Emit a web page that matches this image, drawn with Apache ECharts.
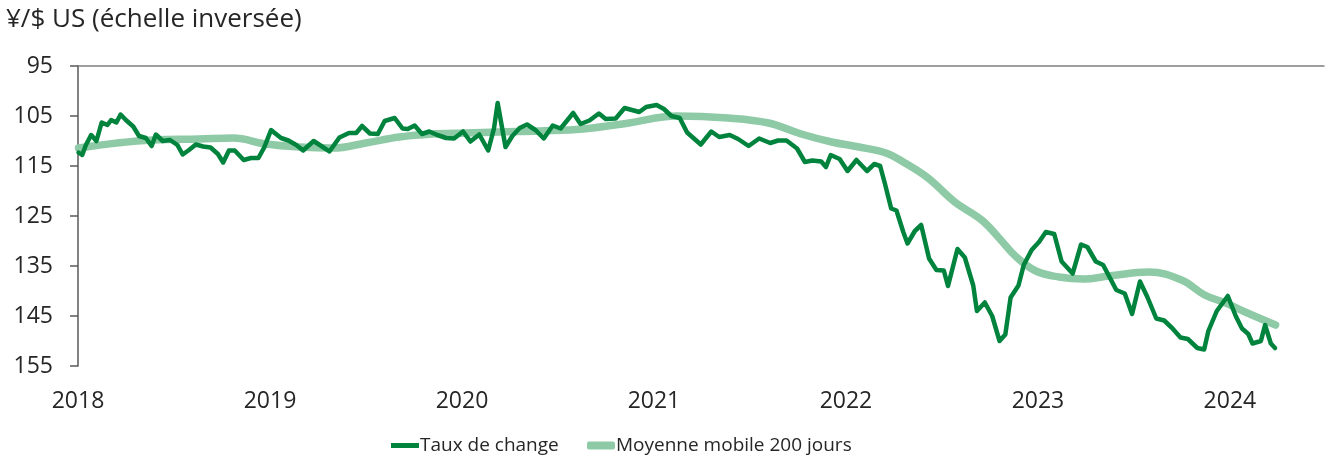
<!DOCTYPE html>
<html>
<head>
<meta charset="utf-8">
<title>¥/$ US</title>
<script src="https://cdn.jsdelivr.net/npm/echarts@6/dist/echarts.min.js"></script>
<style>
  html, body { margin: 0; padding: 0; background: #fff; }
  #chart { width: 1327px; height: 459px; }
</style>
</head>
<body>
<div id="chart"></div>
<script>
// Taux de change (¥ par $ US)
const rateDates = [
  '2018-01-02', '2018-01-09', '2018-01-16', '2018-01-26', '2018-02-05', '2018-02-15', '2018-02-26',
  '2018-03-05', '2018-03-15', '2018-03-23', '2018-04-02', '2018-04-16', '2018-04-27', '2018-05-10',
  '2018-05-21', '2018-05-29', '2018-06-11', '2018-06-25', '2018-07-09', '2018-07-19', '2018-07-31',
  '2018-08-13', '2018-08-27', '2018-09-10', '2018-09-24', '2018-10-04', '2018-10-15', '2018-10-26',
  '2018-11-12', '2018-11-26', '2018-12-10', '2018-12-21',
  '2019-01-03', '2019-01-10', '2019-01-22', '2019-02-05', '2019-02-20', '2019-03-05', '2019-03-25',
  '2019-04-10', '2019-04-24', '2019-05-13', '2019-05-31', '2019-06-14', '2019-06-25', '2019-07-10',
  '2019-07-25', '2019-08-07', '2019-08-26', '2019-09-10', '2019-09-20', '2019-10-03', '2019-10-17',
  '2019-10-31', '2019-11-15', '2019-12-02', '2019-12-17',
  '2020-01-03', '2020-01-17', '2020-02-03', '2020-02-20', '2020-03-02', '2020-03-09', '2020-03-16',
  '2020-03-24', '2020-04-06', '2020-04-20', '2020-05-04', '2020-05-20', '2020-06-05', '2020-06-22',
  '2020-07-07', '2020-07-31', '2020-08-14', '2020-08-31', '2020-09-18', '2020-10-01', '2020-10-20',
  '2020-11-06', '2020-11-20', '2020-12-04', '2020-12-17',
  '2021-01-06', '2021-01-20', '2021-02-03', '2021-02-19', '2021-03-05', '2021-03-31', '2021-04-20',
  '2021-05-05', '2021-05-25', '2021-06-10', '2021-06-30', '2021-07-20', '2021-08-10', '2021-08-25',
  '2021-09-10', '2021-09-30', '2021-10-15', '2021-10-29', '2021-11-15', '2021-11-24', '2021-12-03',
  '2021-12-20',
  '2022-01-04', '2022-01-21', '2022-02-10', '2022-02-24', '2022-03-07', '2022-03-16', '2022-03-28',
  '2022-04-07', '2022-04-20', '2022-04-28', '2022-05-12', '2022-05-24', '2022-06-08', '2022-06-22',
  '2022-07-06', '2022-07-14', '2022-08-01', '2022-08-15', '2022-08-31', '2022-09-07', '2022-09-22',
  '2022-10-06', '2022-10-20', '2022-10-31', '2022-11-10', '2022-11-25', '2022-12-05', '2022-12-20',
  '2023-01-03', '2023-01-16', '2023-02-01', '2023-02-15', '2023-03-08', '2023-03-24', '2023-04-05',
  '2023-04-21', '2023-05-05', '2023-05-30', '2023-06-15', '2023-06-29', '2023-07-14', '2023-07-28',
  '2023-08-14', '2023-08-29', '2023-09-13', '2023-09-29', '2023-10-13', '2023-10-31', '2023-11-13',
  '2023-11-21', '2023-12-07', '2023-12-28',
  '2024-01-12', '2024-01-24', '2024-02-05', '2024-02-13', '2024-02-29', '2024-03-08', '2024-03-19',
  '2024-03-27'
];
const rateValues = [
  112.3, 112.8, 110.8, 108.8, 110.0, 106.3, 106.8,
  105.8, 106.3, 104.7, 105.8, 107.1, 109.0, 109.4,
  111.0, 108.7, 110.0, 109.8, 110.8, 112.7, 111.8,
  110.7, 111.1, 111.3, 112.6, 114.3, 111.9, 111.9,
  113.8, 113.4, 113.4, 111.3,
  107.8, 108.4, 109.4, 109.9, 110.8, 111.9, 110.0,
  111.1, 112.1, 109.3, 108.4, 108.4, 107.0, 108.5,
  108.6, 106.0, 105.4, 107.5, 107.6, 106.9, 108.6,
  108.1, 108.8, 109.4, 109.5,
  108.1, 110.1, 108.7, 111.9, 107.5, 102.4, 106.5,
  111.2, 109.0, 107.4, 106.7, 107.8, 109.5, 106.9,
  107.5, 104.4, 106.6, 105.9, 104.5, 105.6, 105.5,
  103.4, 103.8, 104.2, 103.2,
  102.8, 103.6, 105.0, 105.4, 108.3, 110.7, 108.1,
  109.2, 108.8, 109.6, 111.0, 109.5, 110.4, 109.9,
  109.9, 111.5, 114.2, 113.9, 114.1, 115.2, 112.8,
  113.6,
  116.0, 113.8, 116.0, 114.6, 115.0, 118.5, 123.5,
  123.9, 128.2, 130.5, 128.0, 126.8, 133.5, 135.8,
  135.9, 139.0, 131.6, 133.3, 138.9, 144.0, 142.3,
  145.0, 150.0, 148.7, 141.3, 138.9, 134.8, 131.8,
  130.2, 128.2, 128.6, 134.1, 136.5, 130.7, 131.2,
  134.1, 134.8, 139.8, 140.5, 144.6, 138.1, 141.2,
  145.5, 145.9, 147.4, 149.3, 149.6, 151.4, 151.7,
  148.0, 144.0, 141.0,
  145.0, 147.5, 148.6, 150.5, 150.0, 146.8, 150.5,
  151.4
];

// Moyenne mobile 200 jours
const avgDates = [
  '2018-01-02', '2018-05-23', '2018-08-19', '2018-10-23', '2018-12-24', '2019-02-26', '2019-05-01',
  '2019-07-02', '2019-09-04', '2019-11-06', '2020-01-08', '2020-03-12', '2020-05-27', '2020-08-19',
  '2020-11-14', '2021-02-13', '2021-05-22', '2021-08-07', '2021-10-08', '2021-12-05', '2022-01-26',
  '2022-03-18', '2022-04-23', '2022-06-06', '2022-07-27', '2022-09-16', '2022-10-19', '2022-11-19',
  '2022-12-28', '2023-02-10', '2023-03-29', '2023-05-16', '2023-07-31', '2023-10-01', '2023-11-14',
  '2023-12-24', '2024-01-30', '2024-03-28'
];
const avgValues = [
  111.4, 109.8, 109.6, 109.4, 110.6, 111.2, 111.4,
  110.4, 109.2, 108.6, 108.4, 108.2, 108.0, 107.6,
  106.4, 105.0, 105.4, 106.4, 108.6, 110.2, 111.2,
  112.4, 114.4, 117.4, 122.2, 125.8, 129.4, 133.0,
  136.0, 137.2, 137.6, 137.0, 136.2, 137.8, 140.8,
  142.4, 144.2, 146.8
];

const yearTicks = ['2018', '2019', '2020', '2021', '2022', '2023', '2024'];
const seriesNames = ['Taux de change', 'Moyenne mobile 200 jours'];

function toYear(s) {
  const d = Date.parse(s + 'T00:00:00Z'),
    y = +s.slice(0, 4),
    start = Date.UTC(y, 0, 1),
    end = Date.UTC(y + 1, 0, 1);
  return y + (d - start) / (end - start);
}

const pairs = (dates, values) => dates.map((d, i) => [toYear(d), values[i]]);

const font = '"Open Sans", "Noto Sans", sans-serif';
const textColor = '#262626';

const chart = echarts.init(document.getElementById('chart'), null, { renderer: 'canvas' });

chart.setOption({
  animation: false,
  backgroundColor: '#fff',
  title: {
    text: '¥/$ US (échelle inversée)',
    left: 1,
    top: 2,
    textStyle: { fontFamily: font, fontSize: 26, fontWeight: 'normal', color: textColor }
  },
  legend: [
    {
      data: [seriesNames[0]],
      left: 386,
      top: 431,
      icon: 'rect',
      itemWidth: 28,
      itemHeight: 5,
      textStyle: { fontFamily: font, fontSize: 19, color: textColor, padding: [0, 0, 0, -4] }
    },
    {
      data: [seriesNames[1]],
      left: 582,
      top: 431,
      icon: 'roundRect',
      itemWidth: 28,
      itemHeight: 8,
      textStyle: { fontFamily: font, fontSize: 19, color: textColor, padding: [0, 0, 0, -4] }
    }
  ],
  grid: { left: 78, right: 3, top: 66, bottom: 93, containLabel: false },
  xAxis: [
    {
      type: 'value',
      position: 'bottom',
      min: +yearTicks[0],
      max: 2024.49,
      interval: 1,
      axisLine: { show: false },
      axisTick: { show: false },
      splitLine: { show: false },
      axisLabel: {
        margin: 24,
        fontFamily: font,
        fontSize: 23,
        color: textColor,
        showMaxLabel: false,
        formatter: v => {
          const label = String(Math.round(v));
          return Math.abs(v - Math.round(v)) < 1e-6 && yearTicks.includes(label) ? label : '';
        }
      }
    },
    {
      type: 'value',
      position: 'top',
      min: +yearTicks[0],
      max: 2024.49,
      axisLine: { show: true, onZero: false, lineStyle: { color: '#7f7f7f', width: 1.5 } },
      axisTick: { show: false },
      axisLabel: { show: false },
      splitLine: { show: false }
    }
  ],
  yAxis: {
    type: 'value',
    inverse: true,
    min: 95,
    max: 155,
    interval: 10,
    axisLine: { show: true, onZero: false, lineStyle: { color: '#595959', width: 1.5 } },
    axisTick: { show: true, length: 8, lineStyle: { color: '#595959', width: 1.5 } },
    splitLine: { show: false },
    axisLabel: { margin: 25, fontFamily: font, fontSize: 23, color: textColor }
  },
  series: [
    {
      name: seriesNames[1],
      type: 'line',
      data: pairs(avgDates, avgValues),
      smooth: 0.4,
      showSymbol: false,
      z: 2,
      lineStyle: { color: '#8ecaa6', width: 7.5, cap: 'round' },
      itemStyle: { color: '#8ecaa6' }
    },
    {
      name: seriesNames[0],
      type: 'line',
      data: pairs(rateDates, rateValues),
      showSymbol: false,
      z: 3,
      lineStyle: { color: '#00843d', width: 4.5, join: 'round', cap: 'round' },
      itemStyle: { color: '#00843d' }
    }
  ]
});
</script>
</body>
</html>
